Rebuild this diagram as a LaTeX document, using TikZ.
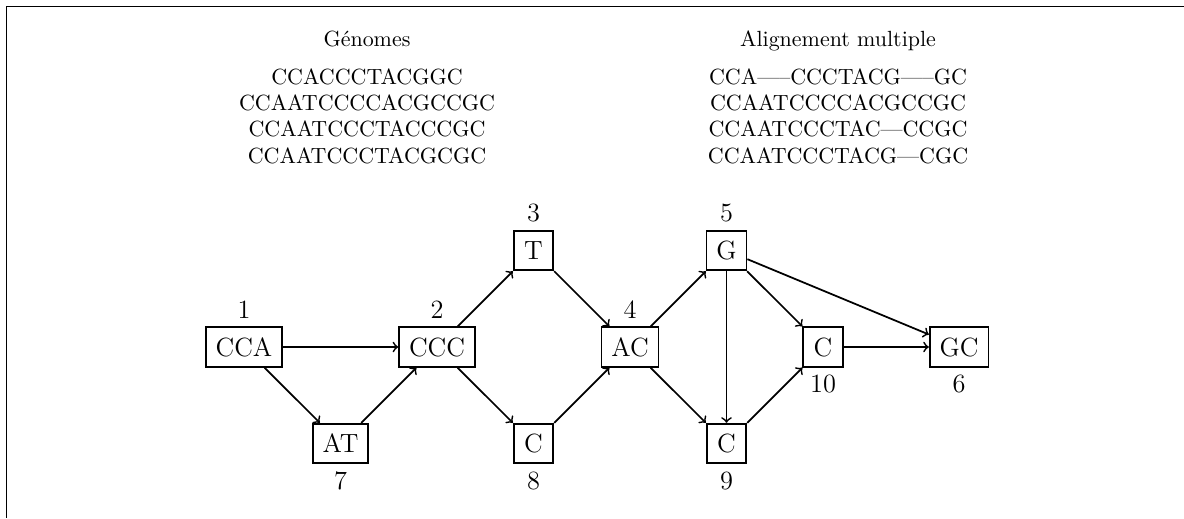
\documentclass[tikz,border=0pt]{standalone}

\tikzset{
  seqbox/.style={draw, thick, font=\large, minimum width=18pt, minimum height=18pt, inner xsep=4.5pt},
  arc/.style={draw, thick, ->},
  every label/.style={font=\large},
}

\begin{document}
\begin{tikzpicture}
  \useasboundingbox (0,0) rectangle (18.944,-8.288);
  % cadre
  \draw[line width=0.8pt] (18.944,-0.104) -- (0.104,-0.104) -- (0.104,-8.288);
  % titres
  \node[anchor=base] (tgen) at (5.872,-0.736) {Génomes};
  \node[anchor=base] (taln) at (13.408,-0.736) {Alignement multiple};
  % sequences et alignement
  \foreach \seq [count=\i from 0] in {CCACCCTACGGC, CCAATCCCCACGCCGC, CCAATCCCTACCCGC, CCAATCCCTACGCGC}
    \node[anchor=base] (gen\i) at (5.872,-1.344-0.4224*\i) {\seq};
  \foreach \seq [count=\i from 0] in {CCA-----CCCTACG-----GC, CCAATCCCCACGCCGC, CCAATCCCTAC---CCGC, CCAATCCCTACG---CGC}
    \node[anchor=base] (aln\i) at (13.408,-1.344-0.4224*\i) {\seq};
  % graphe
  \begin{scope}[x=1.544cm, y=1.544cm, shift={(3.904cm,-5.552cm)}]
    \node[seqbox, label=above:1] (v1) at (0,0) {CCA};
    \node[seqbox, label=above:2] (v2) at (2,0) {CCC};
    \node[seqbox, label=above:3] (v3) at (3,1) {T};
    \node[seqbox, label=above:4] (v4) at (4,0) {AC};
    \node[seqbox, label=above:5] (v5) at (5,1) {G};
    \node[seqbox, label=below:6] (v6) at (7.41,0) {GC};
    \node[seqbox, label=below:7] (v7) at (1,-1) {AT};
    \node[seqbox, label=below:8] (v8) at (3,-1) {C};
    \node[seqbox, label=below:9] (v9) at (5,-1) {C};
    \node[seqbox, label=below:10] (v10) at (6,0) {C};
    % aretes
    \foreach \source/\dest in {v1/v2, v1/v7, v7/v2, v2/v3, v2/v8, v3/v4, v8/v4, v4/v5, v4/v9, v5/v9, v5/v10, v5/v6, v9/v10, v10/v6}
      \path[arc] (\source) to (\dest);
  \end{scope}
\end{tikzpicture}
\end{document}
